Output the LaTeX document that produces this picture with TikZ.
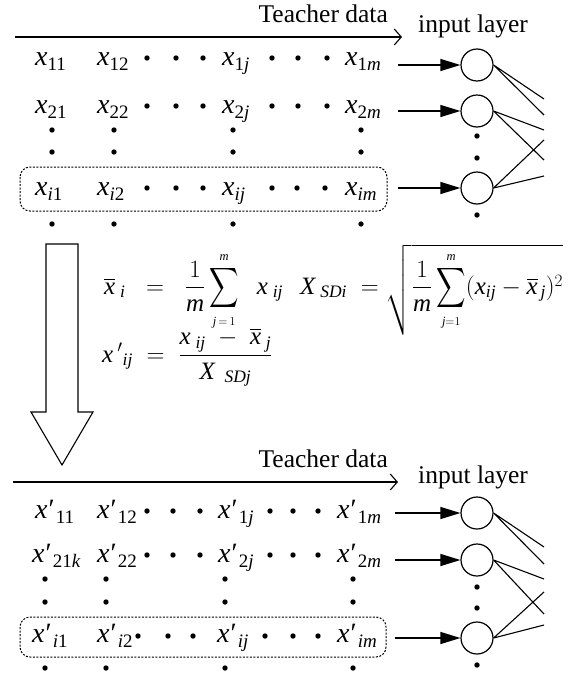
\documentclass[tikz,border=0pt]{standalone}
\usepackage{amsmath}
\usepackage{graphicx}
\usepackage{fontspec}
\setmainfont{Liberation Serif}
\usetikzlibrary{arrows.meta}
\newcommand\subs[1]{\raisebox{-5.5pt}{\fontsize{19}{19}\selectfont #1}}
\newcommand\xe[1]{\textit{x}\subs{#1}}
\newcommand\xp[1]{\textit{x}\kern1pt{\upshape′}\kern1pt\subs{#1}}
\newcommand\ti[1]{\textit{#1}}
\newcommand\bigS{\mathop{\vcenter{\hbox{\scalebox{0.82}[1.12]{$\displaystyle\sum$}}}}\limits}
\newcommand\smlim[1]{{\scriptscriptstyle #1}}
\tikzset{
  ent/.style={inner sep=0pt,anchor=base west,font=\fontsize{28}{30}\selectfont},
  lbl/.style={inner sep=0pt,font=\fontsize{25.5}{28}\selectfont},
  neuron/.style={circle,draw,line width=1.2pt,minimum size=32pt,inner sep=0pt},
  feed/.style={line width=1.2pt,-{Triangle[length=20pt,width=12pt]}},
  link/.style={line width=1.1pt},
  flow/.style={line width=1.1pt,-{Straight Barb[length=7pt,width=16pt]}},
  dashbox/.style={draw,line width=1pt,dash pattern=on 2pt off 1.5pt,rounded corners=10pt},
  form/.style={inner sep=0pt,anchor=base west,font=\fontsize{25}{30}\selectfont}
}
\newcommand\dt[2]{\fill (#1,#2) circle (2.7pt);}
\begin{document}
\begin{tikzpicture}[x=1pt,y=-1pt]
\useasboundingbox (0,0) rectangle (574,675);
% ---------- top block ----------
\coordinate (t0) at (15,37);
\coordinate (t1) at (402,37);
\draw[flow] (t0) -- (t1);
\node[lbl,anchor=base east] (teach1) at (388,22) {Teacher data};
\node[lbl,anchor=base west] (inl1) at (418,32) {input layer};
% rows
\node[ent] (a11) at (35,65) {\xe{11}};
\node[ent] (a12) at (97,65) {\xe{12}};
\node[ent] (a1j) at (222,65) {\xe{1\ti{j}}};
\node[ent] (a1m) at (345,65) {\xe{1\ti{m}}};
\node[ent] (a21) at (35,113) {\xe{21}};
\node[ent] (a22) at (97,113) {\xe{22}};
\node[ent] (a2j) at (222,113) {\xe{2\ti{j}}};
\node[ent] (a2m) at (345,113) {\xe{2\ti{m}}};
\node[ent] (ai1) at (35,195) {\xe{\ti{i}1}};
\node[ent] (ai2) at (97,195) {\xe{\ti{i}2}};
\node[ent] (aij) at (222,195) {\xe{\ti{ij}}};
\node[ent] (aim) at (345,195) {\xe{\ti{im}}};
\foreach \x in {147,176,203,272,298,327}{\dt{\x}{58}\dt{\x}{106}}
\foreach \x in {147,176,203,272,297,325}{\dt{\x}{188}}
\foreach \x in {52,114,233,361}{\dt{\x}{130}\dt{\x}{152}\dt{\x}{224}}
\draw[dashbox] (20,167) rectangle (387,211);
% neurons
\node[neuron] (n1) at (477,65) {};
\node[neuron] (n2) at (477,111) {};
\node[neuron] (n3) at (477,188) {};
\dt{477}{136}\dt{477}{158}\dt{477}{215}
\coordinate (s1) at (398,65);
\coordinate (s2) at (398,111);
\coordinate (s3) at (398,188);
\draw[feed] (s1) -- (n1.west);
\draw[feed] (s2) -- (n2.west);
\draw[feed] (s3) -- (n3.west);
\coordinate (e1) at (544,99);
\coordinate (e2) at (544,115);
\coordinate (e3) at (544,130);
\coordinate (e4) at (544,160);
\coordinate (e5) at (544,140);
\coordinate (e6) at (544,176);
\draw[link] (n1.east) -- (e1) (n1.east) -- (e2);
\draw[link] (n2.east) -- (e3) (n2.east) -- (e4);
\draw[link] (n3.east) -- (e5) (n3.east) -- (e6);
% ---------- big arrow ----------
\draw[line width=1.1pt] (46,244) -- (78,244) -- (78,412) -- (93,412) -- (62,465) -- (31,412) -- (46,412) -- cycle;
% ---------- formulas ----------
\node[form] (f1) at (104,294) {$\overline{\ti{x}}_{\;\ti{i}}\;\;=\;\;\dfrac{1}{\ti{m}}\bigS_{\smlim{\ti{j}\,=\,1}}^{\smlim{\ti{m}}}\;\;\ti{x}_{\;\ti{ij}}$};
\node[form] (f2) at (300,294) {$\ti{X}_{\;\ti{SDi}}\;=\sqrt{\dfrac{1}{\ti{m}}\bigS_{\smlim{\ti{j}=1}}^{\smlim{\ti{m}}}(\ti{x}_{\ti{ij}}-\overline{\ti{x}}_{\,\ti{j}})^2}$};
\node[form] (f3) at (102,362) {${\ti{x}\,'}_{\ti{ij}}\;=\;\dfrac{\ti{x}_{\;\ti{ij}}\;-\;\overline{\ti{x}}_{\;\ti{j}}}{\ti{X}_{\;\;\ti{SDj}}}$};
% ---------- bottom block ----------
\coordinate (u0) at (13,482);
\coordinate (u1) at (398,482);
\draw[flow] (u0) -- (u1);
\node[lbl,anchor=base east] (teach2) at (388,467) {Teacher data};
\node[lbl,anchor=base west] (inl2) at (418,483) {input layer};
\node[ent] (b11) at (35,518) {\xp{11}};
\node[ent] (b12) at (97,518) {\xp{12}};
\node[ent] (b1j) at (218,518) {\xp{1\ti{j}}};
\node[ent] (b1m) at (337,518) {\xp{1\ti{m}}};
\node[ent] (b21) at (32,562) {\xp{21\ti{k}}};
\node[ent] (b22) at (97,562) {\xp{22}};
\node[ent] (b2j) at (218,562) {\xp{2\ti{j}}};
\node[ent] (b2m) at (337,562) {\xp{2\ti{m}}};
\node[ent] (bi1) at (32,642) {\xp{\ti{i}1}};
\node[ent] (bi2) at (97,642) {\xp{\ti{i}2}};
\node[ent] (bij) at (217,642) {\xp{\ti{ij}}};
\node[ent] (bim) at (337,642) {\xp{\ti{im}}};
\foreach \x in {147,173,200,270,293,318}{\dt{\x}{511}\dt{\x}{555}}
\foreach \x in {138,168,193,265,293,318}{\dt{\x}{636}}
\foreach \x in {45,106,225,353}{\dt{\x}{579}\dt{\x}{602}\dt{\x}{668}}
\draw[dashbox] (20,617) rectangle (386,657);
\node[neuron] (m1) at (477,513) {};
\node[neuron] (m2) at (477,560) {};
\node[neuron] (m3) at (477,638) {};
\dt{477}{587}\dt{477}{608}\dt{477}{665}
\coordinate (r1) at (395,513);
\coordinate (r2) at (395,560);
\coordinate (r3) at (395,638);
\draw[feed] (r1) -- (m1.west);
\draw[feed] (r2) -- (m2.west);
\draw[feed] (r3) -- (m3.west);
\coordinate (g1) at (544,547);
\coordinate (g2) at (544,564);
\coordinate (g3) at (544,579);
\coordinate (g4) at (544,614);
\coordinate (g5) at (544,592);
\coordinate (g6) at (544,625);
\draw[link] (m1.east) -- (g1) (m1.east) -- (g2);
\draw[link] (m2.east) -- (g3) (m2.east) -- (g4);
\draw[link] (m3.east) -- (g5) (m3.east) -- (g6);
\end{tikzpicture}
\end{document}
